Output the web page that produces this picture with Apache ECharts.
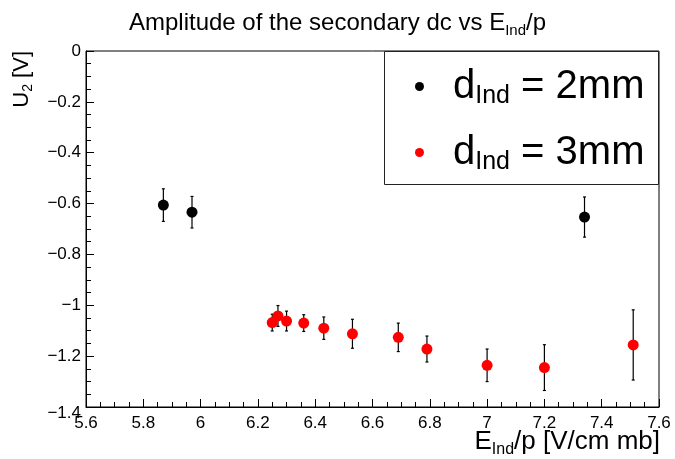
<!DOCTYPE html>
<html>
<head>
<meta charset="utf-8">
<script src="https://cdn.jsdelivr.net/npm/echarts@6/dist/echarts.min.js"></script>
<style>
  html, body { margin: 0; padding: 0; background: #fff; }
  #chart { width: 675px; height: 459px; }
</style>
</head>
<body>
<div id="chart"></div>
<script>
// Secondary dc amplitude U2 against reduced induction field E_Ind/p
var xs2mm  = [5.87, 5.97, 7.34];
var u2mm   = [-0.606, -0.634, -0.653];
var err2mm = [0.064, 0.062, 0.079];

var xs3mm  = [6.25, 6.27, 6.30, 6.36, 6.43, 6.53, 6.69, 6.79, 7.00, 7.20, 7.51];
var u3mm   = [-1.068, -1.042, -1.062, -1.070, -1.090, -1.112, -1.126, -1.172, -1.236, -1.245, -1.156];
var err3mm = [0.033, 0.041, 0.039, 0.033, 0.044, 0.057, 0.056, 0.051, 0.064, 0.090, 0.138];

var seriesNames = ['d_Ind = 2mm', 'd_Ind = 3mm'];
var legendLabels = { 'd_Ind = 2mm': '2mm', 'd_Ind = 3mm': '3mm' };

var FONT = '"Liberation Sans", Arial, Helvetica, sans-serif';

function pointsOf(xs, ys, es) {
  return xs.map(function (x, i) { return [x, ys[i], es[i]]; });
}

// vertical error bar with small end caps
function errorBarItem(params, api) {
  var x = api.value(0), y = api.value(1), e = api.value(2);
  var top = api.coord([x, y + e]);
  var bot = api.coord([x, y - e]);
  var cap = 1.5;
  var style = { stroke: '#000', lineWidth: 1.2 };
  return {
    type: 'group',
    children: [
      { type: 'line', shape: { x1: top[0], y1: top[1], x2: bot[0], y2: bot[1] }, style: style },
      { type: 'line', shape: { x1: top[0] - cap, y1: top[1], x2: top[0] + cap, y2: top[1] }, style: style },
      { type: 'line', shape: { x1: bot[0] - cap, y1: bot[1], x2: bot[0] + cap, y2: bot[1] }, style: style }
    ]
  };
}

var chart = echarts.init(document.getElementById('chart'), null, { renderer: 'canvas' });

var option = {
  backgroundColor: '#fff',
  animation: false,
  textStyle: { fontFamily: FONT },
  title: {
    left: 'center',
    top: 2,
    text: '{a|Amplitude of the secondary dc vs E}{s|Ind}{a|/p}',
    textStyle: {
      rich: {
        a: { fontFamily: FONT, fontSize: 24, fontWeight: 'normal', color: '#000', lineHeight: 32 },
        s: { fontFamily: FONT, fontSize: 15, fontWeight: 'normal', color: '#000', lineHeight: 32, padding: [15, 0, 0, 0] }
      }
    }
  },
  grid: {
    left: 86, right: 16, top: 51, bottom: 52,
    show: true, borderColor: '#000', borderWidth: 1, backgroundColor: 'transparent'
  },
  xAxis: {
    type: 'value',
    min: 5.6, max: 7.6, interval: 0.2,
    axisLine: { onZero: false, lineStyle: { color: '#000', width: 1 } },
    axisTick: { inside: true, length: 8, lineStyle: { color: '#000' } },
    minorTick: { show: true, splitNumber: 4, length: 5, lineStyle: { color: '#000' } },
    splitLine: { show: false },
    axisLabel: { color: '#000', fontSize: 17, fontFamily: FONT, margin: 8 }
  },
  yAxis: {
    type: 'value',
    min: -1.4, max: 0, interval: 0.2,
    axisLine: { onZero: false, lineStyle: { color: '#000', width: 1 } },
    axisTick: { inside: true, length: 8, lineStyle: { color: '#000' } },
    minorTick: { show: true, splitNumber: 4, length: 5, lineStyle: { color: '#000' } },
    splitLine: { show: false },
    axisLabel: {
      color: '#000', fontSize: 17, fontFamily: FONT, margin: 5,
      formatter: function (v) {
        var r = Math.round(Math.abs(v) * 10) / 10;
        if (r === 0) return '0';
        var s = '\u2212' + r;
        return r === 1.4 ? '{low|' + s + '}' : s;
      },
      rich: { low: { fontSize: 17, fontFamily: FONT, color: '#000', padding: [12, 0, 0, 0] } }
    }
  },
  legend: {
    orient: 'vertical',
    left: 410, top: 59,
    itemGap: 21,
    icon: 'circle',
    itemWidth: 9, itemHeight: 9,
    z: 20,
    data: seriesNames,
    formatter: function (name) {
      return '{p|d}{s|Ind}{a| = ' + legendLabels[name] + '}';
    },
    textStyle: {
      rich: {
        p: { fontFamily: FONT, fontSize: 40, color: '#000', lineHeight: 52, padding: [0, 0, 0, 24] },
        s: { fontFamily: FONT, fontSize: 25, color: '#000', lineHeight: 52, padding: [20, 0, 0, 0] },
        a: { fontFamily: FONT, fontSize: 40, color: '#000', lineHeight: 52 }
      }
    }
  },
  graphic: [
    {
      type: 'rect', z: 5,
      shape: { x: 384.5, y: 51.5, width: 274, height: 133 },
      style: { fill: '#fff', stroke: '#222', lineWidth: 1 }
    },
    {
      type: 'text', z: 5,
      x: 660, y: 427,
      style: {
        text: '{a|E}{s|Ind}{a|/p [V/cm mb]}',
        align: 'right', verticalAlign: 'top',
        rich: {
          a: { fontFamily: FONT, fontSize: 26, fill: '#000', lineHeight: 30 },
          s: { fontFamily: FONT, fontSize: 16, fill: '#000', lineHeight: 30, padding: [15, 0, 0, 0] }
        }
      }
    },
    {
      type: 'text', z: 5,
      x: 22, y: 51,
      rotation: Math.PI / 2,
      style: {
        text: '{a|U}{s|2}{a| [V]}',
        align: 'right', verticalAlign: 'middle',
        rich: {
          a: { fontFamily: FONT, fontSize: 22, fill: '#000', lineHeight: 26 },
          s: { fontFamily: FONT, fontSize: 14, fill: '#000', lineHeight: 26, padding: [12, 0, 0, 0] }
        }
      }
    }
  ],
  series: [
    {
      name: seriesNames[0] + ' errors', type: 'custom', z: 2,
      renderItem: errorBarItem,
      data: pointsOf(xs2mm, u2mm, err2mm)
    },
    {
      name: seriesNames[1] + ' errors', type: 'custom', z: 2,
      renderItem: errorBarItem,
      data: pointsOf(xs3mm, u3mm, err3mm)
    },
    {
      name: seriesNames[0], type: 'scatter', z: 3,
      symbol: 'circle', symbolSize: 11,
      itemStyle: { color: '#000', opacity: 1 },
      data: pointsOf(xs2mm, u2mm, err2mm)
    },
    {
      name: seriesNames[1], type: 'scatter', z: 3,
      symbol: 'circle', symbolSize: 11,
      itemStyle: { color: '#ff0000', opacity: 1 },
      data: pointsOf(xs3mm, u3mm, err3mm)
    }
  ]
};

chart.setOption(option);
</script>
</body>
</html>
